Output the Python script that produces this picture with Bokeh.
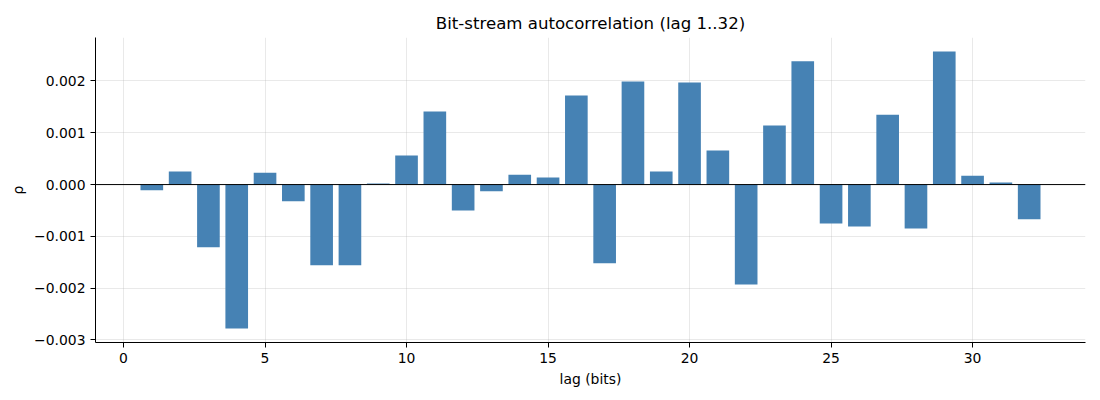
from bokeh.plotting import figure
from bokeh.models import Range1d, Span, FixedTicker, CustomJSTickFormatter
from bokeh.embed import file_html
from bokeh.resources import INLINE

lags = list(range(1, 33))
rho = [-0.00011, 0.00025, -0.00121, -0.00278, 0.00023, -0.00032, -0.00156, -0.00156,
       0.00002, 0.00056, 0.00141, -0.00050, -0.00013, 0.00019, 0.000135, 0.00172,
       -0.00152, 0.00199, 0.00025, 0.00197, 0.00066, -0.00193, 0.00114, 0.00238,
       -0.00075, -0.00081, 0.00135, -0.00085, 0.00257, 0.00017, 0.00004, -0.00067]
x_ticks = [0, 5, 10, 15, 20, 25, 30]
y_ticks = [-0.003, -0.002, -0.001, 0.0, 0.001, 0.002]

FONT = "DejaVu Sans"

p = figure(width=1092, height=392, output_backend="svg", toolbar_location=None,
           title="Bit-stream autocorrelation (lag 1..32)",
           x_range=Range1d(-0.99, 33.99), y_range=Range1d(-0.00305, 0.00284),
           min_border_left=95, min_border_right=7, min_border_top=37, min_border_bottom=50)

p.title.align = "center"
p.title.text_font = FONT
p.title.text_font_style = "normal"
p.title.text_font_size = "16.6px"
p.title.text_color = "black"

p.vbar(x=lags, top=rho, bottom=0, width=0.8, fill_color="#4682b4", line_color=None)

p.add_layout(Span(location=0, dimension="width", line_color="black", line_width=1))

p.outline_line_color = None
for ax in (p.xaxis, p.yaxis):
    ax.axis_line_color = "black"
    ax.axis_line_width = 1
    ax.major_tick_line_color = "black"
    ax.major_tick_out = 5
    ax.major_tick_in = 0
    ax.minor_tick_line_color = None
    ax.major_label_text_font = FONT
    ax.major_label_text_font_size = "13.9px"
    ax.major_label_text_color = "black"
    ax.axis_label_text_font = FONT
    ax.axis_label_text_font_size = "13.9px"
    ax.axis_label_text_font_style = "normal"
    ax.axis_label_text_color = "black"

p.xaxis.ticker = FixedTicker(ticks=x_ticks)
p.yaxis.ticker = FixedTicker(ticks=y_ticks)
p.yaxis.formatter = CustomJSTickFormatter(code="return tick.toFixed(3).replace('-', '\u2212');")
p.xaxis.axis_label = "lag (bits)"
p.yaxis.axis_label = "ρ"

p.grid.grid_line_color = "#b0b0b0"
p.grid.grid_line_alpha = 0.35
p.grid.grid_line_width = 0.8

open("out.html", "w").write(file_html(p, INLINE))
